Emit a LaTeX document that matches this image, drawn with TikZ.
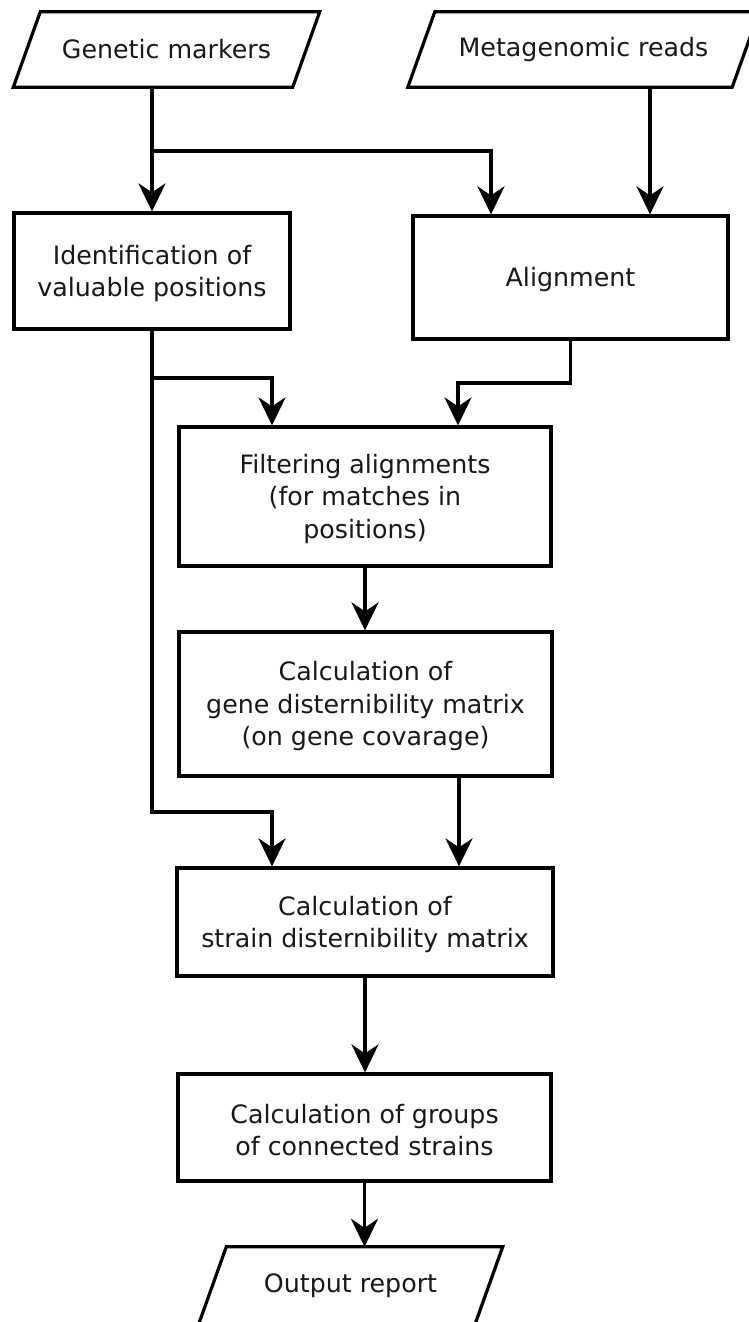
\documentclass[tikz,border=0pt]{standalone}
\usepackage{fontspec}
\setmainfont{DejaVu Sans}
\usetikzlibrary{arrows.meta}
\newcommand\tstrut{\rule{0pt}{24pt}}
\begin{document}
\begin{tikzpicture}[x=1pt,y=-1pt,
  txt/.style={font=\fontsize{25.3}{32.5}\selectfont, text=black!90},
  box/.style={txt, draw, line width=3.2pt, rectangle, align=center, inner sep=0pt},
  io/.style={txt, rectangle, inner sep=0pt},
  para/.style={line width=3.2pt, line join=miter},
  arr/.style={line width=3.2pt, -{Stealth[length=28pt,width=27pt,inset=9pt]}},
  link/.style={line width=3.2pt}]
\useasboundingbox (0,0) rectangle (749,1322);
\clip (0,0) rectangle (749,1322);
\fill[white] (0,0) rectangle (749,1322);
% inputs / output (parallelograms)
\node[io, minimum width=279pt, minimum height=75pt] (gm) at (166.5,49.5) {Genetic markers};
\node[io, minimum width=324pt, minimum height=75pt] (mr) at (583.5,49.5) {Metagenomic reads};
\node[io, minimum width=276pt, minimum height=78pt] (out) at (350.5,1286) {Output report};
\foreach \n in {gm,mr}
  \draw[para] ([xshift=-13.5pt]\n.south west) -- ([xshift=13.5pt]\n.north west)
     -- ([xshift=13.5pt]\n.north east) -- ([xshift=-13.5pt]\n.south east) -- cycle;
\draw[para] ([xshift=-14pt]out.south west) -- ([xshift=14pt]out.north west)
     -- ([xshift=14pt]out.north east) -- ([xshift=-14pt]out.south east) -- cycle;
% process boxes
\node[box, minimum width=276pt, minimum height=116pt] (ident) at (152,271)
  {\tstrut Identification of\\valuable positions};
\node[box, minimum width=315pt, minimum height=123pt] (align) at (570.5,277.5)
  {\tstrut Alignment};
\node[box, minimum width=372pt, minimum height=139pt] (filter) at (365,496.5)
  {\tstrut Filtering alignments\\(for matches in\\positions)};
\node[box, minimum width=373pt, minimum height=144pt] (gene) at (365.5,704)
  {\tstrut Calculation of\\gene disternibility matrix\\(on gene covarage)};
\node[box, minimum width=376pt, minimum height=108pt] (strain) at (365,922)
  {\tstrut Calculation of\\strain disternibility matrix};
\node[box, minimum width=373pt, minimum height=107pt] (groups) at (364.5,1127.5)
  {\tstrut Calculation of groups\\of connected strains};
% helper coordinates
\coordinate (xm) at (650,0);
\coordinate (xa) at (491,0);
\coordinate (b1) at (152,151);
\coordinate (b2) at (152,378);
\coordinate (b3) at (152,812);
\coordinate (xl) at (272,0);
\coordinate (xr) at (458,0);
\coordinate (yb) at (0,383);
% connectors
\draw[arr] (gm.south -| ident.north) -- (ident.north);
\draw[arr] (b1) -| (align.north -| xa);
\draw[arr] (mr.south -| xm) -- (align.north -| xm);
\draw[arr] (ident.south) -- (b3) -| (strain.north -| xl);
\draw[arr] (b2) -| (filter.north -| xl);
\draw[arr] (align.south) -- (align.south |- yb) -| (filter.north -| xr);
\draw[arr] (filter.south) -- (filter.south |- gene.north);
\draw[arr] ([xshift=93.5pt]gene.south) -- ([xshift=93.5pt]gene.south |- strain.north);
\draw[arr] (strain.south) -- (strain.south |- groups.north);
\draw[arr] (groups.south) -- (groups.south |- out.north);
\end{tikzpicture}
\end{document}
